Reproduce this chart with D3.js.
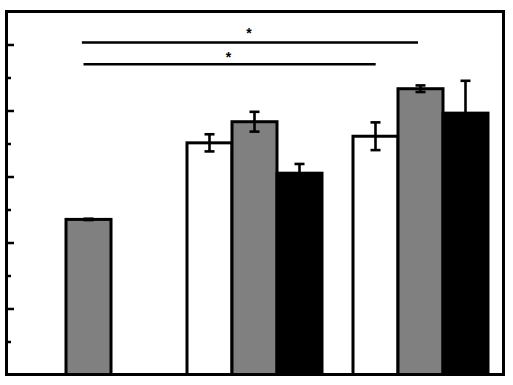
<!DOCTYPE html>
<html><head><meta charset="utf-8">
<script src="https://cdn.jsdelivr.net/npm/d3@7"></script>
<style>html,body{margin:0;padding:0;background:#fff;}svg{display:block;}</style>
</head><body>
<svg id="c" width="513" height="385"></svg>
<script>
const groups = ["G1", "G2", "G3"];
const series = ["white", "gray", "black"];
const fills = ["#ffffff", "#808080", "#000000"];
// values per series (null = no bar)
const whiteVals = [null, 3.51, 3.61];
const grayVals  = [2.35, 3.83, 4.33];
const blackVals = [null, 3.05, 3.96];
const whiteErr = [0, 0.13, 0.21];
const grayErr  = [0.01, 0.15, 0.05];
const blackErr = [0, 0.14, 0.49];
// significance lines in group units
const sigX1 = [-0.04, -0.03];
const sigX2 = [1.985, 1.73];
const sigY  = [5.03, 4.70];
const sigStarY = [5.10, 4.73];
const sigLabels = ["*", "*"];
const yMax = 5.5;

const svg = d3.select("#c");
const x = d3.scaleLinear().domain([-0.5, 2.5]).range([5.5, 503.5]);
const unit = x(1) - x(0);
const barW = 45 / unit;
const offs = d3.scaleOrdinal().domain(series).range([-barW, 0, barW]);
const y = d3.scaleLinear().domain([0, yMax]).range([374.5, 11.5]);

const vals = [whiteVals, grayVals, blackVals];
const errs = [whiteErr, grayErr, blackErr];
const data = [];
series.forEach((s, si) => groups.forEach((g, gi) => {
  if (vals[si][gi] != null) data.push({g: gi, s, si, v: vals[si][gi], e: errs[si][gi]});
}));

// bars
svg.selectAll("rect.bar").data(data).join("rect").attr("class", "bar")
  .attr("x", d => x(d.g + offs(d.s) - barW / 2))
  .attr("width", x(barW) - x(0))
  .attr("y", d => y(d.v))
  .attr("height", d => y(0) - y(d.v))
  .attr("fill", d => fills[d.si])
  .attr("stroke", "#000").attr("stroke-width", 3);

// error bars
const eb = svg.append("g").attr("stroke", "#000").attr("stroke-width", 2.6);
data.filter(d => d.e > 0).forEach(d => {
  const cx = x(d.g + offs(d.s));
  eb.append("line").attr("x1", cx).attr("x2", cx).attr("y1", y(d.v + d.e)).attr("y2", y(d.v - d.e));
  eb.append("line").attr("x1", cx - 5).attr("x2", cx + 5).attr("y1", y(d.v + d.e)).attr("y2", y(d.v + d.e));
  eb.append("line").attr("x1", cx - 5).attr("x2", cx + 5).attr("y1", y(d.v - d.e)).attr("y2", y(d.v - d.e));
});

// frame
svg.append("rect").attr("x", 6.5).attr("y", 11.5).attr("width", 497).attr("height", 363)
  .attr("fill", "none").attr("stroke", "#000").attr("stroke-width", 3);

// left axis ticks (inward)
const major = d3.range(1, 6, 1);
const minor = d3.range(0.5, 5.5, 1);
svg.append("g").attr("transform", "translate(8,0)")
  .call(d3.axisRight(y).tickValues(major).tickSize(6).tickFormat(""))
  .call(g => g.select(".domain").remove())
  .call(g => g.selectAll("line").attr("stroke", "#000").attr("stroke-width", 2.5));
svg.append("g").attr("transform", "translate(8,0)")
  .call(d3.axisRight(y).tickValues(minor).tickSize(3).tickFormat(""))
  .call(g => g.select(".domain").remove())
  .call(g => g.selectAll("line").attr("stroke", "#000").attr("stroke-width", 2.5));

// significance
sigLabels.forEach((lab, i) => {
  svg.append("line").attr("x1", x(sigX1[i])).attr("x2", x(sigX2[i]))
    .attr("y1", y(sigY[i])).attr("y2", y(sigY[i]))
    .attr("stroke", "#000").attr("stroke-width", 2.5);
  svg.append("text").attr("x", x((sigX1[i] + sigX2[i]) / 2) - 1).attr("y", y(sigStarY[i]))
    .attr("text-anchor", "middle").attr("font-family", "Liberation Sans, Arial, sans-serif")
    .attr("font-size", 14).attr("font-weight", "bold").attr("fill", "#000").text(lab);
});
</script>
</body></html>
